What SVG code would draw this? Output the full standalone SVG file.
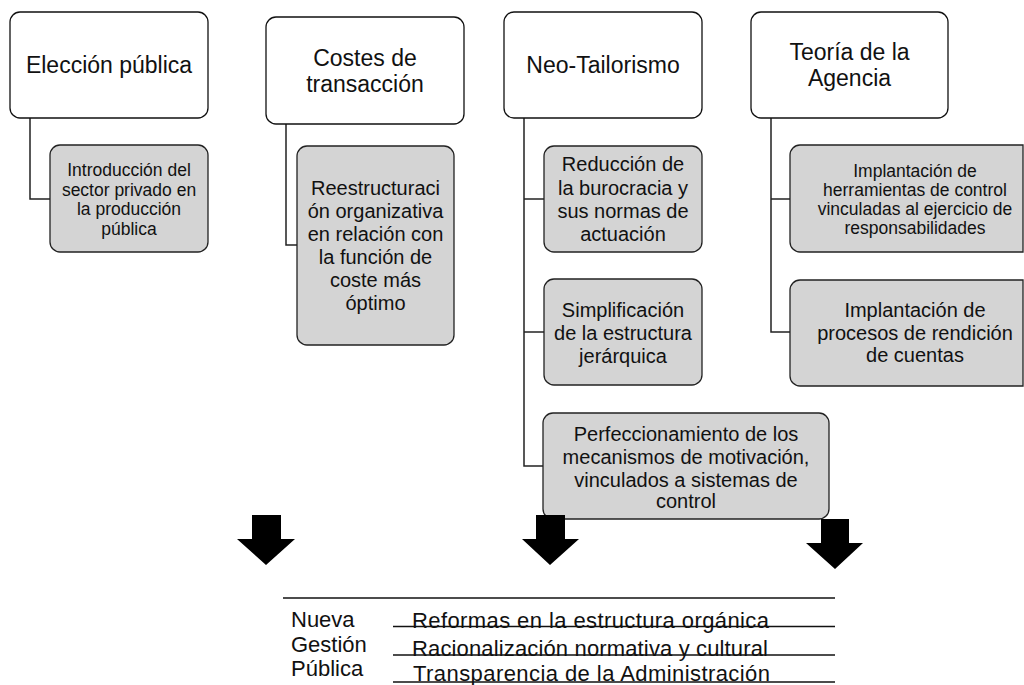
<svg xmlns="http://www.w3.org/2000/svg" width="1024" height="685" viewBox="0 0 1024 685">
<style>
text{font-family:"Liberation Sans",Arial,sans-serif;fill:#111;text-anchor:middle}
.top{fill:#fff;stroke:#111;stroke-width:1.3}
.sub{fill:#d4d4d4;stroke:#222;stroke-width:1.3}
.t23{font-size:23px}
.t20{font-size:20px}
.t17{font-size:17.5px}
.t22{font-size:22px;text-anchor:start}
.conn{fill:none;stroke:#222;stroke-width:1.5}
.arrow{fill:#000}
.rule{stroke:#111;stroke-width:1.5}
</style>
<rect width="1024" height="685" fill="#fff"/>
<g id="connectors">
<polyline class="conn" points="30,118 30,199 50,199"/>
<polyline class="conn" points="286,124 286,245 297,245"/>
<polyline class="conn" points="524,118 524,466 543,466"/>
<line class="conn" x1="524" y1="199" x2="544" y2="199"/>
<line class="conn" x1="524" y1="332" x2="544" y2="332"/>
<polyline class="conn" points="771,118 771,332 790,332"/>
<line class="conn" x1="771" y1="199" x2="790" y2="199"/>
</g>
<g id="n-eleccion">
<rect class="top" x="10" y="12" width="198" height="106" rx="10"/>
<text class="t23" x="109" y="73">Elección pública</text>
</g>
<g id="n-costes">
<rect class="top" x="266" y="17" width="198" height="107" rx="10"/>
<text class="t23" x="365" y="66">Costes de</text>
<text class="t23" x="365" y="92">transacción</text>
</g>
<g id="n-neo">
<rect class="top" x="504" y="12" width="198" height="106" rx="10"/>
<text class="t23" x="603" y="73">Neo-Tailorismo</text>
</g>
<g id="n-teoria">
<rect class="top" x="751" y="12" width="197" height="106" rx="10"/>
<text class="t23" x="849.5" y="60">Teoría de la</text>
<text class="t23" x="849.5" y="86">Agencia</text>
</g>
<g id="n-introduccion">
<rect class="sub" x="50" y="145" width="158" height="107" rx="10"/>
<text class="t17" x="129" y="176">Introducción del</text>
<text class="t17" x="129" y="195.5">sector privado en</text>
<text class="t17" x="129" y="215">la producción</text>
<text class="t17" x="129" y="235">pública</text>
</g>
<g id="n-reestructuracion">
<rect class="sub" x="297" y="146" width="157" height="199" rx="10"/>
<text class="t20" x="375.5" y="195">Reestructuraci</text>
<text class="t20" x="375.5" y="218">ón organizativa</text>
<text class="t20" x="375.5" y="241">en relación con</text>
<text class="t20" x="375.5" y="264">la función de</text>
<text class="t20" x="375.5" y="287">coste más</text>
<text class="t20" x="375.5" y="310">óptimo</text>
</g>
<g id="n-reduccion">
<rect class="sub" x="544" y="146" width="158" height="106" rx="10"/>
<text class="t20" x="623" y="171">Reducción de</text>
<text class="t20" x="623" y="194.5">la burocracia y</text>
<text class="t20" x="623" y="218">sus normas de</text>
<text class="t20" x="623" y="241">actuación</text>
</g>
<g id="n-simplificacion">
<rect class="sub" x="544" y="279" width="158" height="106" rx="10"/>
<text class="t20" x="623" y="317">Simplificación</text>
<text class="t20" x="623" y="340">de la estructura</text>
<text class="t20" x="623" y="363">jerárquica</text>
</g>
<g id="n-perfeccionamiento">
<rect class="sub" x="543" y="413" width="286" height="106" rx="10"/>
<text class="t20" x="686" y="441">Perfeccionamiento de los</text>
<text class="t20" x="686" y="464">mecanismos de motivación,</text>
<text class="t20" x="686" y="487">vinculados a sistemas de</text>
<text class="t20" x="686" y="508">control</text>
</g>
<g id="n-herramientas">
<path class="sub" d="M1023,145 H800 A10,10 0 0 0 790,155 V242 A10,10 0 0 0 800,252 H1023 Z"/>
<text class="t17" x="915" y="176.5">Implantación de</text>
<text class="t17" x="915" y="195.5">herramientas de control</text>
<text class="t17" x="915" y="215">vinculadas al ejercicio de</text>
<text class="t17" x="915" y="233.5">responsabilidades</text>
</g>
<g id="n-rendicion">
<path class="sub" d="M1023,280 H800 A10,10 0 0 0 790,290 V376 A10,10 0 0 0 800,386 H1023 Z"/>
<text class="t20" x="915" y="317">Implantación de</text>
<text class="t20" x="915" y="340">procesos de rendición</text>
<text class="t20" x="915" y="362">de cuentas</text>
</g>
<g id="arrows">
<polygon class="arrow" points="252,515 281,515 281,539 295,539 266,565 237,539 252,539"/>
<polygon class="arrow" points="536,515 565,515 565,539 579,539 550,565 522,539 536,539"/>
<polygon class="arrow" points="821,519 849,519 849,543 863,543 835,569 806,543 821,543"/>
</g>
<g id="n-nueva-gestion">
<line class="rule" x1="283" y1="598" x2="835" y2="598"/>
<text class="t22" x="291" y="626.5">Nueva</text>
<text class="t22" x="291" y="651.5">Gestión</text>
<text class="t22" x="291" y="676">Pública</text>
<text class="t22" x="412" y="628" textLength="357" lengthAdjust="spacing">Reformas en la estructura orgánica</text>
<text class="t22" x="412" y="656" textLength="356" lengthAdjust="spacing">Racionalización normativa y cultural</text>
<text class="t22" x="413" y="681" textLength="357" lengthAdjust="spacing">Transparencia de la Administración</text>
<line class="rule" x1="393" y1="626.5" x2="835" y2="626.5"/>
<line class="rule" x1="393" y1="655" x2="835" y2="655"/>
<line class="rule" x1="393" y1="682" x2="835" y2="682"/>
</g>
</svg>
